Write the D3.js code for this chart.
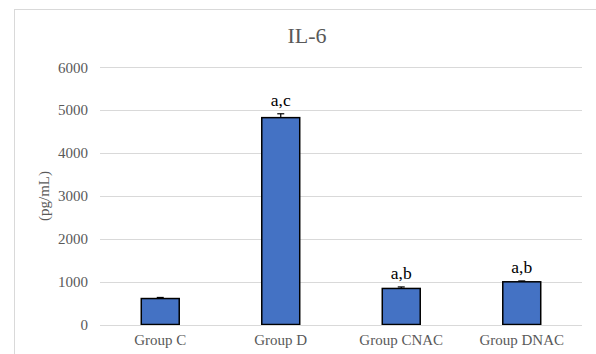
<!DOCTYPE html>
<html>
<head>
<meta charset="utf-8">
<script src="https://cdn.jsdelivr.net/npm/d3@7"></script>
<style>
  body { margin: 0; background: #fff; }
  svg { display: block; }
</style>
</head>
<body>
<div id="chart"></div>
<script>
const groups = ["Group C", "Group D", "Group CNAC", "Group DNAC"];
const means = [605, 4820, 840, 995];
const errors = [25, 90, 35, 20];
const marks = ["", "a,c", "a,b", "a,b"];
const yTicks = [0, 1000, 2000, 3000, 4000, 5000, 6000];

const width = 596, height = 354;
const margin = { top: 67, right: 14, bottom: 29.5, left: 100 };
const serif = "'Liberation Serif', 'Times New Roman', serif";

const svg = d3.select("#chart").append("svg")
    .attr("width", width)
    .attr("height", height);

// chart frame
svg.append("rect")
    .attr("x", 14.5).attr("y", 9.5)
    .attr("width", 600).attr("height", 400)
    .attr("fill", "#fff")
    .attr("stroke", "#d9d9d9")
    .attr("stroke-width", 1);

const x = d3.scaleBand()
    .domain(groups)
    .range([margin.left, width - margin.right])
    .paddingInner(0.685)
    .paddingOuter(0.3425);

const y = d3.scaleLinear()
    .domain([0, 6000])
    .range([height - margin.bottom, margin.top]);

// gridlines
svg.append("g")
    .selectAll("line")
    .data(yTicks)
    .enter().append("line")
    .attr("x1", margin.left)
    .attr("x2", width - margin.right)
    .attr("y1", d => Math.round(y(d)) + 0.5)
    .attr("y2", d => Math.round(y(d)) + 0.5)
    .attr("stroke", "#d9d9d9")
    .attr("stroke-width", 1);

// y tick labels
svg.append("g")
    .selectAll("text")
    .data(yTicks)
    .enter().append("text")
    .attr("x", 88)
    .attr("y", d => y(d) + 5.5)
    .attr("text-anchor", "end")
    .style("font-family", serif)
    .style("font-size", "15px")
    .attr("fill", "#595959")
    .text(d => d);

// bars
svg.append("g")
    .selectAll("rect")
    .data(groups)
    .enter().append("rect")
    .attr("x", d => x(d))
    .attr("y", (d, i) => y(means[i]))
    .attr("width", x.bandwidth())
    .attr("height", (d, i) => y(0) - y(means[i]))
    .attr("fill", "#4472c4")
    .attr("stroke", "#000")
    .attr("stroke-width", 1.5);

// baseline over bars
svg.append("line")
    .attr("x1", margin.left)
    .attr("x2", width - margin.right)
    .attr("y1", Math.round(y(0)) + 0.5)
    .attr("y2", Math.round(y(0)) + 0.5)
    .attr("stroke", "#d9d9d9")
    .attr("stroke-width", 1);

// error bars
const err = svg.append("g");
groups.forEach((g, i) => {
    const cx = x(g) + x.bandwidth() / 2;
    err.append("line")
        .attr("x1", cx).attr("x2", cx)
        .attr("y1", y(means[i])).attr("y2", y(means[i] + errors[i]))
        .attr("stroke", "#000").attr("stroke-width", 1.2);
    err.append("line")
        .attr("x1", cx - 3.5).attr("x2", cx + 3.5)
        .attr("y1", y(means[i] + errors[i])).attr("y2", y(means[i] + errors[i]))
        .attr("stroke", "#000").attr("stroke-width", 1.2);
});

// significance marks
svg.append("g")
    .selectAll("text")
    .data(groups)
    .enter().append("text")
    .attr("x", d => x(d) + x.bandwidth() / 2)
    .attr("y", (d, i) => y(means[i] + errors[i]) - 7.5)
    .attr("text-anchor", "middle")
    .style("font-family", serif)
    .style("font-size", "17.5px")
    .attr("fill", "#000")
    .text((d, i) => marks[i]);

// category labels
svg.append("g")
    .selectAll("text")
    .data(groups)
    .enter().append("text")
    .attr("x", d => x(d) + x.bandwidth() / 2)
    .attr("y", 345)
    .attr("text-anchor", "middle")
    .style("font-family", serif)
    .style("font-size", "15px")
    .attr("fill", "#595959")
    .text(d => d);

// title
svg.append("text")
    .attr("x", 307)
    .attr("y", 43)
    .attr("text-anchor", "middle")
    .style("font-family", serif)
    .style("font-size", "22px")
    .attr("fill", "#595959")
    .text("IL-6");

// y axis title
svg.append("text")
    .attr("transform", "translate(49,196) rotate(-90)")
    .attr("text-anchor", "middle")
    .style("font-family", serif)
    .style("font-size", "15px")
    .attr("fill", "#595959")
    .text("(pg/mL)");
</script>
</body>
</html>
